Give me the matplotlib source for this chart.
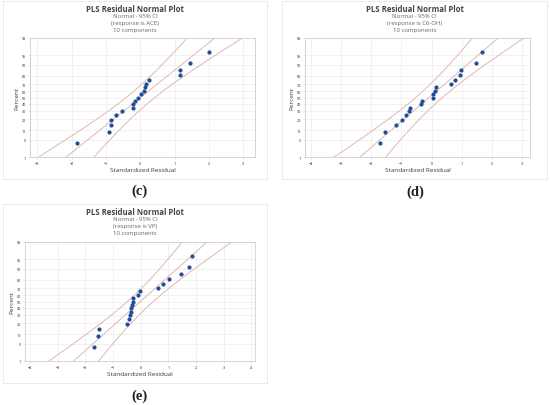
import matplotlib
matplotlib.use('Agg')
import matplotlib.pyplot as plt
from matplotlib.patches import Rectangle
from statistics import NormalDist
import numpy as np

W, H = 550, 406
font = 'Open Sans'

# standardized residuals (sorted)
res_ace = [-1.84, -0.90, -0.86, -0.86, -0.70, -0.54, -0.22, -0.21, -0.15, -0.06,
           0.02, 0.11, 0.14, 0.18, 0.26, 1.16, 1.16, 1.45, 2.01]
res_c6oh = [-1.70, -1.54, -1.17, -0.99, -0.84, -0.75, -0.71, -0.36, -0.32, 0.04,
            0.04, 0.10, 0.14, 0.66, 0.77, 0.95, 0.99, 1.48, 1.69]
res_vp = [-1.67, -1.54, -1.51, -0.48, -0.43, -0.39, -0.35, -0.34, -0.31, -0.29,
          -0.29, -0.11, -0.04, 0.63, 0.80, 1.04, 1.45, 1.76, 1.86]

pct_ticks = [1, 5, 10, 20, 30, 40, 50, 60, 70, 80, 90, 95, 99]
xticks_c = [-3, -2, -1, 0, 1, 2, 3]
xticks_d = [-4, -3, -2, -1, 0, 1, 2, 3]
xticks_e = [-4, -3, -2, -1, 0, 1, 2, 3, 4]

nd = NormalDist()
_ppf = np.vectorize(lambda p: nd.inv_cdf(min(max(p, 1e-6), 100 - 1e-6) / 100.),
                    otypes=[float])
_cdf = np.vectorize(lambda z: nd.cdf(z) * 100., otypes=[float])

pt_col = '#1f4f96'
ln_col = '#e0b0b0'
grid_col = '#ececec'
txt_col = '#3a3a3a'


def px(x, y):
    return x / W, 1 - y / H


def panel(fig, frame, area, res, response, xlim, xticks, title_y, label, label_xy):
    # outer grey frame of the Minitab graph
    fx0, fy0, fx1, fy1 = frame
    fig.patches.append(Rectangle(px(fx0, fy1), (fx1 - fx0) / W, (fy1 - fy0) / H,
                                 transform=fig.transFigure, fill=False,
                                 ec='#e8e8e8', lw=0.6))
    x0, y0, x1, y1 = area
    l, b = px(x0, y1)
    ax = fig.add_axes([l, b, (x1 - x0) / W, (y1 - y0) / H])
    ax.set_yscale('function', functions=(_ppf, _cdf))

    r = np.array(res)
    n = len(r)
    pct = (np.arange(1, n + 1) - 0.3) / (n + 0.4) * 100
    mu, sd = r.mean(), r.std(ddof=1)

    z = np.linspace(-3.2, 3.2, 200)
    pz = _cdf(z)
    half = 1.96 * sd * np.sqrt(1. / n + z ** 2 / (2. * n))
    ax.plot(mu + sd * z, pz, c=ln_col, lw=0.65)
    ax.plot(mu + sd * z - half, pz, c=ln_col, lw=0.65)
    ax.plot(mu + sd * z + half, pz, c=ln_col, lw=0.65)
    ax.scatter(r, pct, s=9, c=pt_col, zorder=3, linewidths=0)

    ax.set_xlim(*xlim)
    ax.set_ylim(1, 99)
    ax.set_xticks(xticks)
    ax.set_yticks(pct_ticks)
    ax.set_yticklabels([str(p) for p in pct_ticks])
    ax.minorticks_off()
    ax.grid(True, color=grid_col, lw=0.5)
    ax.set_axisbelow(True)
    for s in ax.spines.values():
        s.set_color('#cfcfcf')
        s.set_linewidth(0.6)
    ax.tick_params(labelsize=2.7, length=1.2, width=0.4, pad=1.5,
                   colors='#cfcfcf', labelcolor='#222222')
    for t in ax.get_xticklabels() + ax.get_yticklabels():
        t.set_fontfamily(font)
    ax.set_xlabel('Standardized Residual', fontsize=4.6, color=txt_col,
                  family=font, labelpad=1.5)
    ax.set_ylabel('Percent', fontsize=4.6, color=txt_col, family=font, labelpad=2)

    cx = (fx0 + fx1) / 2.
    fig.text(*px(cx, title_y), 'PLS Residual Normal Plot', ha='center', va='center',
             fontsize=5.6, weight='bold', color='#444444', family=font)
    subs = ['Normal - 95% CI', '(response is {!s})'.format(response), '10 components']
    for k, s in enumerate(subs):
        fig.text(*px(cx, title_y + 6.8 + 6.7 * k), s, ha='center', va='center',
                 fontsize=4.3, color='#666666', family=font)
    fig.text(*px(*label_xy), label, ha='center', va='center', fontsize=10.5,
             family='Liberation Serif', weight='bold', color='#222222')
    return ax


fig = plt.figure(figsize=(W / 100., H / 100.), dpi=100)
fig.patch.set_facecolor('white')

panel(fig, (3, 2, 267, 180), (30, 39, 255, 158), res_ace, 'ACE',
      (-3.21, 3.34), xticks_c, 10, '(c)', (140, 191))
panel(fig, (282, 2, 547, 180), (305, 39, 530, 158), res_c6oh, 'C6-OH',
      (-4.2, 3.27), xticks_d, 10, '(d)', (415, 192))
panel(fig, (3, 205, 267, 384), (25, 243, 255, 362), res_vp, 'VP',
      (-4.18, 4.13), xticks_e, 213, '(e)', (140, 396))

plt.savefig('out.png', dpi=100)
